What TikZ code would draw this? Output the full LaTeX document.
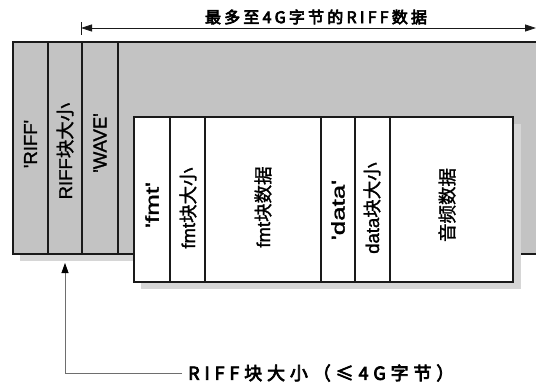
\documentclass[tikz,border=0pt]{standalone}
\usepackage{fontspec}
\usepackage{graphicx}
\setmainfont{Liberation Sans}[FakeBold=1.5]
\newfontfamily\cjk[FakeBold=1.5]{Noto Sans CJK SC}
\newfontfamily\cjkb[FakeBold=4,LetterSpace=20]{Noto Sans CJK SC}
\newfontfamily\cjkc[FakeBold=4,LetterSpace=27]{Noto Sans CJK SC}
\usetikzlibrary{arrows.meta}
\definecolor{boxgrey}{HTML}{C3C3C3}
\definecolor{shadowgrey}{HTML}{D6D6D6}
\definecolor{linegrey}{HTML}{6E6E6E}
\definecolor{edge}{HTML}{1A1A1A}
\newcommand\qq{\textquotesingle}
\begin{document}
\begin{tikzpicture}[x=1pt,y=-1pt,
  vlabel/.style={rotate=90,inner sep=0pt,font=\fontsize{18.5}{20}\selectfont,text=black},
  thinline/.style={draw=edge,line width=1.2pt},
  thickline/.style={draw=edge,line width=2.4pt}]
\useasboundingbox (0,0) rectangle (536,383);
\clip (0,0) rectangle (536,383);
% shadows
\fill[shadowgrey] (20,255) rectangle (134,261);
% outer grey box
\fill[boxgrey] (13,42) rectangle (560,254);
\draw[edge,line width=1.6pt] (560,42) -- (13,42) -- (13,254) -- (560,254);
\foreach \x in {48,82,118} \draw[thinline] (\x,42) -- (\x,254);
% inner box shadow
\fill[shadowgrey] (141,124) rectangle (521,289);
% inner white box
\fill[white] (134,117) rectangle (513,282);
\foreach \x in {170,205,355,390} \draw[thinline] (\x,117) -- (\x,282);
\draw[thickline] (321,117) -- (321,282);
\draw[edge,line width=2.2pt] (134,117) rectangle (513,282);
% labels in the boxes
\node[vlabel] (riff) at (30.5,144) {\qq RIFF\qq};
\node[vlabel] (riffsize) at (65,151) {RIFF{\cjk 块大小}};
\node[vlabel] (wave) at (100,143) {\qq WAVE\qq};
\node[vlabel] (fmt) at (152,205) {\scalebox{1.4}[1]{\qq fmt\qq}};
\node[vlabel] (fmtsize) at (188,208) {fmt{\cjk 块大小}};
\node[vlabel] (fmtdata) at (263,207) {fmt{\cjk 块数据}};
\node[vlabel] (data) at (338,210) {\scalebox{1.4}[1]{\qq data\qq}};
\node[vlabel] (datasize) at (372,208) {data{\cjk 块大小}};
\node[vlabel] (audio) at (447,205) {{\cjk 音频数据}};
% top dimension arrow
\coordinate (barT) at (81,22);
\coordinate (barB) at (81,35);
\coordinate (tl) at (81,28);
\coordinate (tr) at (536,28);
\draw[edge,line width=1pt] (barT) -- (barB);
\draw[edge,line width=0.8pt,{Triangle[length=11pt,width=7pt]}-{Triangle[length=11pt,width=7pt]}] (tl) -- (tr);
\node[inner sep=0pt,font=\fontsize{16}{18}\selectfont\cjkb] (toplbl) at (316,17) {最多至4G字节的RIFF数据};
% bottom arrow
\node[inner sep=0pt,font=\fontsize{18}{20}\selectfont\cjkc,anchor=west] (botlbl) at (188,373) {RIFF块大小（≤4G字节）};
\coordinate (tip) at (65,263);
\draw[linegrey,line width=0.8pt,-{Triangle[black,length=10pt,width=7pt]}] ([xshift=-6pt]botlbl.west) -| (tip);
\end{tikzpicture}
\end{document}
